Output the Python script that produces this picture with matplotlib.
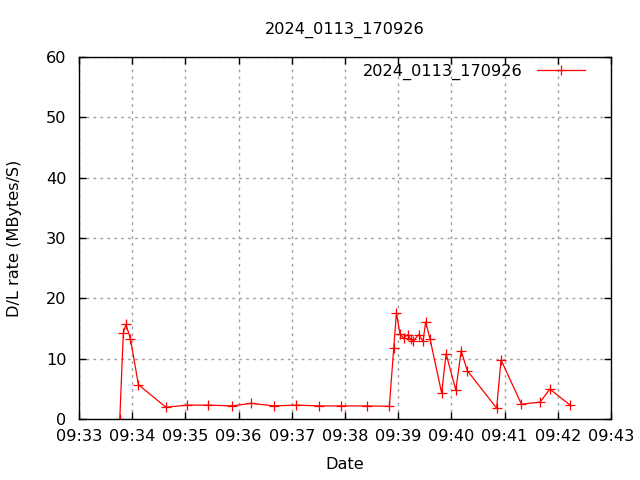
import matplotlib
matplotlib.use("Agg")
import matplotlib.pyplot as plt
import matplotlib.dates as mdates
import pandas as pd

title = "2024_0113_170926"
series_name = "2024_0113_170926"
times = ["09:33:46", "09:33:50", "09:33:53", "09:33:58", "09:34:07", "09:34:38",
         "09:35:02", "09:35:26", "09:35:53", "09:36:14", "09:36:40", "09:37:05",
         "09:37:31", "09:37:56", "09:38:25", "09:38:50", "09:38:55", "09:38:58",
         "09:39:02", "09:39:06", "09:39:11", "09:39:14", "09:39:17", "09:39:23",
         "09:39:28", "09:39:31", "09:39:36", "09:39:49", "09:39:54", "09:40:05",
         "09:40:11", "09:40:18", "09:40:51", "09:40:56", "09:41:19", "09:41:40",
         "09:41:51", "09:42:14"]
rates = [0.0, 14.3, 15.7, 13.3, 5.7, 1.95,
         2.3, 2.3, 2.17, 2.6, 2.17, 2.3,
         2.17, 2.17, 2.17, 2.1, 11.8, 17.6,
         14.1, 13.4, 14.0, 13.2, 12.9, 14.0,
         12.9, 16.1, 13.2, 4.3, 10.8, 4.8,
         11.3, 8.0, 1.8, 9.8, 2.45, 2.8,
         4.95, 2.3]
x_start = "09:33:00"
x_end = "09:43:00"
y_min, y_max = 0, 60

base = "2024-01-13 "
t = pd.to_datetime([base + s for s in times])

fs = 11.6
plt.rcParams['font.family'] = ['DejaVu Sans']
fig = plt.figure(figsize=(6.4, 4.8), dpi=100)
ax = fig.add_axes([79/640, 1-419/480, 532/640, 362/480])

ax.plot(t, rates, color='red', linewidth=0.9, marker='+', markersize=7,
        markeredgewidth=0.9, label=series_name)

ax.set_xlim(pd.Timestamp(base + x_start), pd.Timestamp(base + x_end))
ax.set_ylim(y_min, y_max)
ax.xaxis.set_major_locator(mdates.MinuteLocator(interval=1))
ax.xaxis.set_major_formatter(mdates.DateFormatter('%H:%M'))
ax.set_yticks(range(0, 61, 10))

ax.grid(True, color='#a0a0a0', linestyle=(0, (2, 3)), linewidth=1.0)
ax.tick_params(direction='in', length=5, width=1, top=True, right=True,
               labelsize=fs)
ax.tick_params(axis='x', pad=7.5)
ax.tick_params(axis='y', pad=9)
for s in ax.spines.values():
    s.set_linewidth(1.0)
    s.set_color('black')

ax.set_title(title, fontsize=fs, pad=17)
ax.set_xlabel("Date", fontsize=fs, labelpad=9)
ax.set_ylabel("D/L rate (MBytes/S)", fontsize=fs, labelpad=17.5)

leg = ax.legend(loc='center right', bbox_to_anchor=(506/532, 347/362),
                frameon=False, markerfirst=False, fontsize=fs,
                handlelength=3.0, borderaxespad=0, borderpad=0,
                handletextpad=0.85)

fig.savefig("out.png", dpi=100)
